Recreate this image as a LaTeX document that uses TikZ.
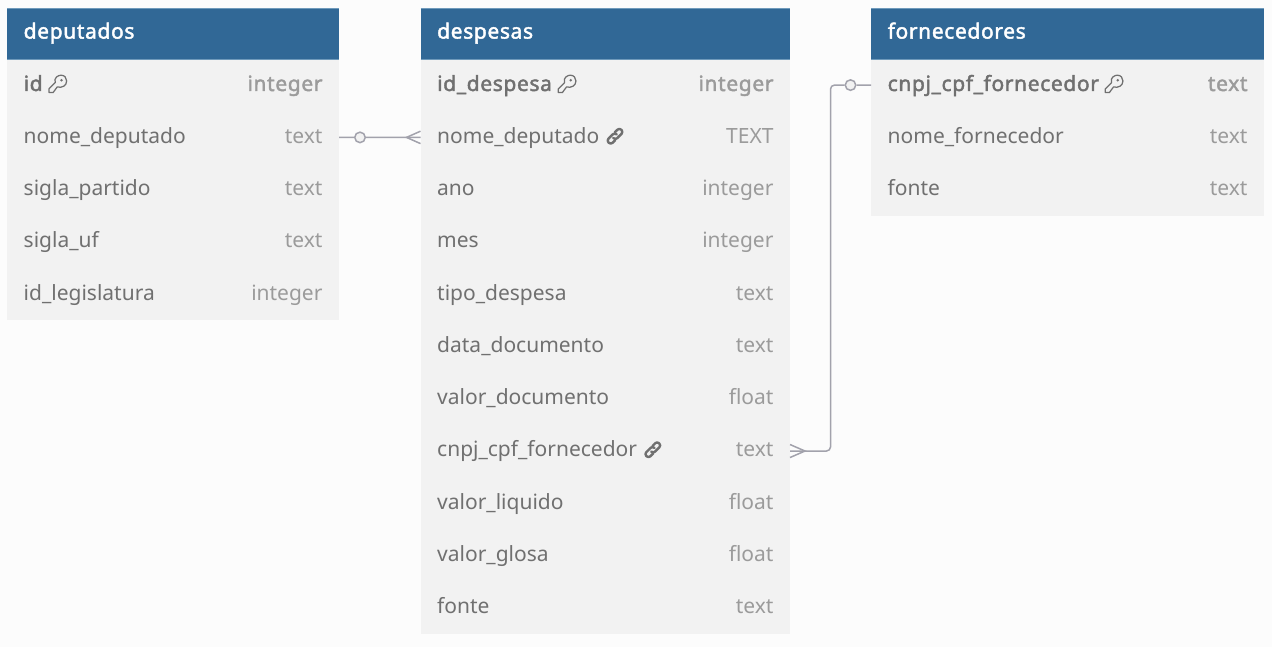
\documentclass[tikz,border=0pt]{standalone}
\usepackage{fontspec}
\setmainfont{Noto Sans}
\newfontfamily\heavyfont{Noto Sans}[FakeBold=2,LetterSpace=3]
\definecolor{bgc}{HTML}{FCFCFC}
\definecolor{hdr}{HTML}{316896}
\definecolor{hdredge}{HTML}{6F9ABB}
\definecolor{rowc}{HTML}{F2F2F2}
\definecolor{namec}{HTML}{707070}
\definecolor{typec}{HTML}{9B9B9B}
\definecolor{linec}{HTML}{A2A2AC}
\tikzset{
  hdrbox/.style={fill=hdr,draw=none,inner sep=0,anchor=north west,minimum height=51.3,outer sep=0},
  rowbox/.style={fill=rowc,draw=none,inner sep=0,anchor=north west,minimum height=52.27,outer sep=0},
  title/.style={font=\fontsize{21}{24}\heavyfont,text=white,inner sep=0,anchor=base west},
  fname/.style={font=\fontsize{21}{24}\selectfont,text=namec,inner sep=0,anchor=base west},
  ftype/.style={font=\fontsize{21}{24}\selectfont,text=typec,inner sep=0,anchor=base east},
  fnamekey/.style={fname,font=\fontsize{21}{24}\heavyfont},
  ftypekey/.style={ftype,font=\fontsize{21}{24}\heavyfont},
  rel/.style={draw=linec,line width=1.5},
  keyicon/.pic={
    \draw[namec,line width=1.25,line join=round]
      (-8.8,8.6) -- (-8.8,4.8) -- (-2.7,-1.3)
      .. controls (-4.2,-6.6) and (0.6,-8.8) .. (3.2,-8.8)
      .. controls (6.8,-8.8) and (8.8,-6) .. (8.8,-3)
      .. controls (8.8,1.6) and (4,4.4) .. (-0.6,2.9)
      -- (-4.8,8.6) -- cycle;
    \fill[namec] (3.6,-3.8) circle[radius=1.4];
  },
  linkicon/.pic={
    \begin{scope}[rotate=45]
      \draw[namec,line width=2.4,line cap=round,line join=round,rounded corners=2.6]
        (2.4,0) -- (2.4,-2.9) -- (-9,-2.9) -- (-9,2.9) -- (-2.4,2.9);
      \draw[namec,line width=2.4,line cap=round,line join=round,rounded corners=2.6]
        (-2.4,0) -- (-2.4,2.9) -- (9,2.9) -- (9,-2.9) -- (2.4,-2.9);
    \end{scope}
  },
}
\newcommand\tablehead[5]{% id, x, width, text, inset
  \node[hdrbox,minimum width=#3] (#1h) at (#2,8) {};
  \draw[hdredge,line width=0.8] (#1h.north west) -- (#1h.north east);
  \draw[hdredge,line width=0.8] (#1h.south west) -- (#1h.south east);
  \node[title] (#1t) at (#2+#5,38.6) {#4};
}
\newcommand\tablerow[7]{% id, idx, x, width, name, type, style-suffix
  \node[rowbox,minimum width=#4] (#1r#2) at (#3,{59+52.27*(#2-1)}) {};
  \node[fname#7] (#1n#2) at (#3+16.5,{59+52.25*(#2-1)+32}) {#5};
  \node[ftype#7] (#1y#2) at (#3+#4-16.3,{59+52.25*(#2-1)+32}) {#6};
}
\begin{document}
\begin{tikzpicture}[x=1pt,y=-1pt]
\useasboundingbox (0,0) rectangle (1272,647);
\fill[bgc] (0,0) rectangle (1272,647);

% deputados
\tablerow{a}{1}{7}{332}{id}{integer}{key}
\tablerow{a}{2}{7}{332}{nome\_deputado}{text}{}
\tablerow{a}{3}{7}{332}{sigla\_partido}{text}{}
\tablerow{a}{4}{7}{332}{sigla\_uf}{text}{}
\tablerow{a}{5}{7}{332}{id\_legislatura}{integer}{}
\tablehead{a}{7}{332}{deputados}{16.5}

% despesas
\tablerow{b}{1}{420.5}{369.5}{id\_despesa}{integer}{key}
\tablerow{b}{2}{420.5}{369.5}{nome\_deputado}{TEXT}{}
\tablerow{b}{3}{420.5}{369.5}{ano}{integer}{}
\tablerow{b}{4}{420.5}{369.5}{mes}{integer}{}
\tablerow{b}{5}{420.5}{369.5}{tipo\_despesa}{text}{}
\tablerow{b}{6}{420.5}{369.5}{data\_documento}{text}{}
\tablerow{b}{7}{420.5}{369.5}{valor\_documento}{float}{}
\tablerow{b}{8}{420.5}{369.5}{cnpj\_cpf\_fornecedor}{text}{}
\tablerow{b}{9}{420.5}{369.5}{valor\_liquido}{float}{}
\tablerow{b}{10}{420.5}{369.5}{valor\_glosa}{float}{}
\tablerow{b}{11}{420.5}{369.5}{fonte}{text}{}
\tablehead{b}{420.5}{369.5}{despesas}{16.5}

% fornecedores
\tablerow{c}{1}{871}{393}{cnpj\_cpf\_fornecedor}{text}{key}
\tablerow{c}{2}{871}{393}{nome\_fornecedor}{text}{}
\tablerow{c}{3}{871}{393}{fonte}{text}{}
\tablehead{c}{871}{393}{fornecedores}{16.5}

% icons
\pic at ([xshift=15,yshift=7]an1.base east) {keyicon};
\pic at ([xshift=15,yshift=7]bn1.base east) {keyicon};
\pic at ([xshift=15,yshift=7]cn1.base east) {keyicon};
\pic at ([xshift=15.5,yshift=7]bn2.base east) {linkicon};
\pic at ([xshift=15.5,yshift=7]bn8.base east) {linkicon};

% relation deputados - despesas
\node[circle,draw=linec,line width=1.5,fill=rowc,minimum size=10.5,inner sep=0] (ca) at (360,137.4) {};
\coordinate (fa) at ([xshift=-14]br2.west);
\draw[rel] (ar2.east) -- (ca);
\draw[rel] (ca) -- (br2.west);
\draw[rel] ([yshift=-6.2]br2.west) -- (fa) -- ([yshift=6.2]br2.west);

% relation despesas - fornecedores
\node[circle,draw=linec,line width=1.5,fill=rowc,minimum size=10.5,inner sep=0] (cb) at (850.5,85.1) {};
\coordinate (fb) at ([xshift=15]br8.east);
\draw[rel] (cr1.west) -- (cb);
\draw[rel,rounded corners=4] (cb) -- (830.5,85.1) -- (830.5,451) -- (br8.east);
\draw[rel] ([yshift=-6.5]br8.east) -- (fb) -- ([yshift=6.5]br8.east);
\end{tikzpicture}
\end{document}
